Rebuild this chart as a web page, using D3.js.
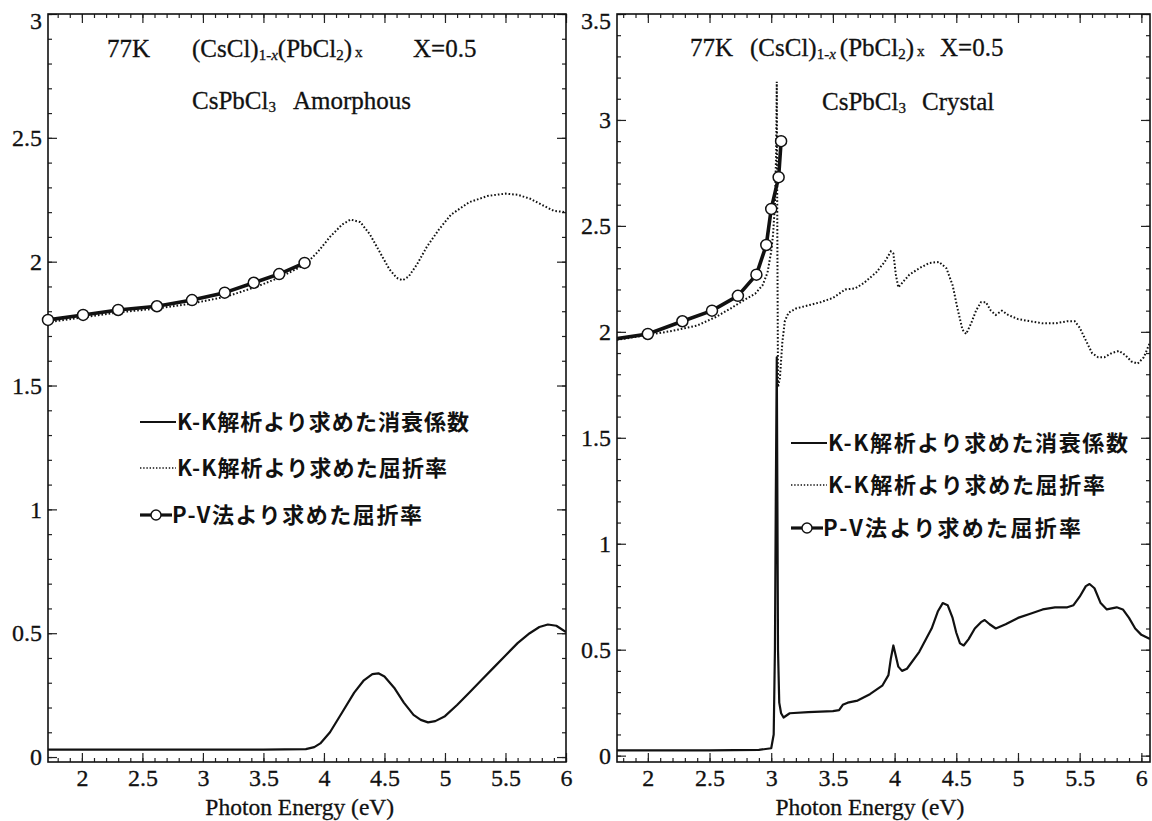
<!DOCTYPE html>
<html>
<head lang="ja">
<meta charset="UTF-8">
<script type="text/javascript" src="https://cdnjs.cloudflare.com/ajax/libs/d3/7.8.5/d3.min.js"></script>
<style>
    body { margin: 0; background: #fff; }
    .note { font-family: "Liberation Serif", "Times New Roman", serif; font-size: 25px; fill: #111; stroke: #111; stroke-width: 0.3px; }
    .sub { font-size: 15px; }
    .tk { font-family: "Liberation Serif", "Times New Roman", serif !important; font-size: 24px !important; fill: #111; stroke: #111; stroke-width: 0.3px; }
    .legend { font-family: "Noto Sans CJK JP", sans-serif; font-weight: 700; font-size: 22px; fill: #111; }
</style>
</head>
<body>
<svg id="chart" width="1152" height="821"></svg>
<script>

// ---------- data ----------
// Photon energy ticks
var xMajorTicks = [2, 2.5, 3, 3.5, 4, 4.5, 5, 5.5, 6];
var yTicksAmorph = [0, 0.5, 1, 1.5, 2, 2.5, 3];
var yTicksCrystal = [0, 0.5, 1, 1.5, 2, 2.5, 3, 3.5];

// Amorphous: extinction coefficient (K-K)
var kAmorph = [[1.72,0.03],[3.5,0.03],[3.85,0.032],[3.92,0.04],[3.97,0.055],[4.05,0.1],[4.15,0.18],[4.25,0.26],
    [4.33,0.31],[4.4,0.335],[4.45,0.338],[4.5,0.325],[4.58,0.28],[4.66,0.22],[4.74,0.17],[4.8,0.15],[4.86,0.14],
    [4.92,0.145],[5.0,0.165],[5.1,0.21],[5.2,0.26],[5.3,0.31],[5.4,0.36],[5.5,0.41],[5.6,0.46],[5.7,0.5],
    [5.78,0.525],[5.85,0.535],[5.92,0.53],[6.0,0.505]];
// Amorphous: refractive index (K-K)
var nAmorph = [[1.72,1.755],[2.0,1.775],[2.3,1.795],[2.6,1.81],[2.9,1.83],[3.2,1.86],[3.45,1.9],[3.65,1.94],
    [3.85,1.99],[3.95,2.04],[4.05,2.1],[4.15,2.15],[4.22,2.17],[4.3,2.16],[4.38,2.11],[4.46,2.04],[4.54,1.97],
    [4.6,1.935],[4.65,1.925],[4.7,1.94],[4.77,1.99],[4.85,2.06],[4.95,2.13],[5.05,2.19],[5.2,2.24],[5.35,2.265],
    [5.5,2.275],[5.6,2.27],[5.7,2.255],[5.8,2.23],[5.9,2.205],[6.0,2.2]];
// Amorphous: refractive index (P-V)
var pvAmorphE = [1.72, 2.01, 2.3, 2.62, 2.91, 3.18, 3.42, 3.63, 3.84];
var pvAmorphN = [1.765, 1.785, 1.805, 1.82, 1.845, 1.875, 1.915, 1.95, 1.995];

// Crystal: extinction coefficient (K-K)
var kCrystal = [[1.72,0.025],[2.5,0.025],[2.9,0.027],[3.0,0.035],[3.02,0.1],[3.03,0.5],[3.037,1.2],[3.045,1.88],
    [3.05,1.2],[3.055,0.5],[3.065,0.25],[3.08,0.2],[3.1,0.18],[3.15,0.2],[3.3,0.205],[3.5,0.21],[3.55,0.215],
    [3.58,0.24],[3.62,0.25],[3.7,0.26],[3.8,0.29],[3.9,0.33],[3.95,0.38],[3.97,0.46],[3.99,0.52],[4.01,0.47],
    [4.03,0.42],[4.06,0.4],[4.1,0.41],[4.2,0.49],[4.3,0.6],[4.35,0.68],[4.39,0.72],[4.43,0.71],[4.47,0.65],
    [4.5,0.58],[4.53,0.53],[4.56,0.52],[4.6,0.55],[4.65,0.6],[4.7,0.63],[4.73,0.64],[4.77,0.62],[4.82,0.6],
    [4.9,0.62],[5.0,0.65],[5.1,0.67],[5.2,0.69],[5.3,0.7],[5.4,0.7],[5.45,0.71],[5.5,0.75],[5.55,0.8],
    [5.58,0.81],[5.62,0.79],[5.67,0.72],[5.72,0.69],[5.8,0.7],[5.85,0.69],[5.9,0.65],[5.95,0.6],[6.0,0.57],[6.07,0.55]];
// Crystal: refractive index (K-K)
var nCrystal = [[1.72,1.96],[2.0,1.985],[2.2,2.005],[2.4,2.03],[2.55,2.07],[2.67,2.11],[2.78,2.15],[2.87,2.18],
    [2.93,2.22],[2.97,2.28],[3.0,2.38],[3.015,2.46],[3.03,2.6],[3.04,2.85],[3.045,3.18],[3.05,2.4],[3.055,1.74],
    [3.07,1.78],[3.09,1.95],[3.11,2.05],[3.14,2.09],[3.2,2.11],[3.3,2.125],[3.4,2.14],[3.5,2.16],[3.55,2.18],
    [3.6,2.2],[3.68,2.205],[3.75,2.23],[3.85,2.28],[3.92,2.33],[3.97,2.38],[3.99,2.37],[4.01,2.27],[4.03,2.21],
    [4.06,2.23],[4.12,2.27],[4.2,2.3],[4.28,2.325],[4.36,2.33],[4.42,2.3],[4.47,2.22],[4.51,2.11],[4.55,2.01],
    [4.58,1.99],[4.62,2.04],[4.66,2.1],[4.7,2.14],[4.74,2.14],[4.78,2.1],[4.82,2.08],[4.87,2.1],[4.92,2.08],
    [5.0,2.06],[5.1,2.05],[5.2,2.04],[5.3,2.04],[5.4,2.05],[5.46,2.05],[5.5,2.02],[5.55,1.96],[5.6,1.9],
    [5.65,1.88],[5.7,1.88],[5.76,1.9],[5.82,1.91],[5.87,1.89],[5.92,1.86],[5.97,1.85],[6.02,1.88],[6.07,1.95]];
// Crystal: refractive index (P-V); first point is where the line leaves the frame
var pvCrystalE = [1.72, 2.0, 2.28, 2.52, 2.73, 2.88, 2.96, 3.0, 3.06, 3.08];
var pvCrystalN = [1.965, 1.99, 2.05, 2.10, 2.17, 2.27, 2.41, 2.58, 2.73, 2.90];

var legendLabels = ["K-K解析より求めた消衰係数", "K-K解析より求めた屈折率", "P-V法より求めた屈折率"];

// ---------- drawing ----------
var svg = d3.select("#chart");

function minorTicks(lo, hi, step){
    var out = [];
    for (var v = Math.ceil(lo / step - 1e-9) * step; v <= hi + 1e-9; v += step) out.push(+v.toFixed(3));
    return out;
}

function drawPanel(p){
    var x = d3.scaleLinear().domain(p.xDomain).range([p.left, p.right]);
    var y = d3.scaleLinear().domain(p.yDomain).range([p.bottom, p.top]);
    var g = svg.append("g");

    var clipId = "clip" + p.id;
    svg.append("clipPath").attr("id", clipId)
        .append("rect").attr("x", p.left).attr("y", p.top)
        .attr("width", p.right - p.left).attr("height", p.bottom - p.top);

    // minor ticks on all four sides
    var xMinor = minorTicks(p.xDomain[0], p.xDomain[1], 0.1);
    var yMinor = minorTicks(Math.max(0, p.yDomain[0]), p.yDomain[1], 0.1);
    g.append("g").attr("transform", "translate(0," + p.bottom + ")")
        .call(d3.axisBottom(x).tickValues(xMinor).tickSize(-4).tickFormat(""));
    g.append("g").attr("transform", "translate(0," + p.top + ")")
        .call(d3.axisTop(x).tickValues(xMinor).tickSize(-4).tickFormat(""));
    g.append("g").attr("transform", "translate(" + p.left + ",0)")
        .call(d3.axisLeft(y).tickValues(yMinor).tickSize(-4).tickFormat(""));
    g.append("g").attr("transform", "translate(" + p.right + ",0)")
        .call(d3.axisRight(y).tickValues(yMinor).tickSize(-4).tickFormat(""));

    // major ticks + labels
    var fmt = d3.format("~g");
    var xb = g.append("g").attr("transform", "translate(0," + p.bottom + ")")
        .call(d3.axisBottom(x).tickValues(xMajorTicks).tickSize(-9).tickPadding(7).tickFormat(fmt));
    g.append("g").attr("transform", "translate(0," + p.top + ")")
        .call(d3.axisTop(x).tickValues(xMajorTicks).tickSize(-9).tickFormat(""));
    var yl = g.append("g").attr("transform", "translate(" + p.left + ",0)")
        .call(d3.axisLeft(y).tickValues(p.yTicks).tickSize(-9).tickPadding(6).tickFormat(fmt));
    g.append("g").attr("transform", "translate(" + p.right + ",0)")
        .call(d3.axisRight(y).tickValues(p.yTicks).tickSize(-9).tickFormat(""));

    g.selectAll(".domain").remove();
    g.selectAll(".tick line").attr("stroke", "#222").attr("stroke-width", 1.2);
    xb.attr("font-family", null).attr("font-size", null);
    yl.attr("font-family", null).attr("font-size", null);
    xb.selectAll("text").attr("class", "tk");
    yl.selectAll("text").attr("class", "tk");
    // top label sits just under the frame corner, as in the original
    yl.selectAll(".tick text").filter(function(d){ return d === p.yDomain[1]; }).attr("dy", "0.6em");

    // frame
    g.append("rect").attr("x", p.left).attr("y", p.top)
        .attr("width", p.right - p.left).attr("height", p.bottom - p.top)
        .attr("fill", "none").attr("stroke", "#111").attr("stroke-width", 1.6);

    // axis title
    g.append("text").attr("class", "note").attr("x", x(3.8)).attr("y", 815)
        .attr("text-anchor", "middle").style("font-size", "23.5px").text("Photon Energy (eV)");

    var line = d3.line().x(function(d){ return x(d[0]); }).y(function(d){ return y(d[1]); });
    var curves = g.append("g").attr("clip-path", "url(#" + clipId + ")");

    curves.append("path").datum(p.n).attr("d", line)
        .attr("fill", "none").attr("stroke", "#111").attr("stroke-width", 2)
        .attr("stroke-dasharray", "1.6,2");
    curves.append("path").datum(p.k).attr("d", line)
        .attr("fill", "none").attr("stroke", "#111").attr("stroke-width", 2.2)
        .attr("stroke-linejoin", "round");

    var pv = p.pvE.map(function(e, i){ return [e, p.pvN[i]]; });
    curves.append("path").datum(pv).attr("d", line)
        .attr("fill", "none").attr("stroke", "#111").attr("stroke-width", 3.6)
        .attr("stroke-linejoin", "round");
    g.selectAll(".pv" + p.id)
        .data(pv.filter(function(d){ return d[0] >= p.xDomain[0] - 0.01; }))
        .enter().append("circle")
        .attr("cx", function(d){ return x(d[0]); })
        .attr("cy", function(d){ return y(d[1]); })
        .attr("r", 5.5).attr("fill", "#fff").attr("stroke", "#111").attr("stroke-width", 1.5);

    // notes
    p.notes(g);

    // legend
    var lg = g.append("g");
    legendLabels.forEach(function(t, i){
        var ly = p.legendY[i];
        var sx = p.legendX;
        if (i === 0) {
            lg.append("line").attr("x1", sx).attr("x2", sx + 36).attr("y1", ly).attr("y2", ly)
                .attr("stroke", "#111").attr("stroke-width", 2);
        } else if (i === 1) {
            lg.append("line").attr("x1", sx).attr("x2", sx + 36).attr("y1", ly).attr("y2", ly)
                .attr("stroke", "#111").attr("stroke-width", 1.6).attr("stroke-dasharray", "1.4,1.8");
        } else {
            lg.append("line").attr("x1", sx).attr("x2", sx + 32).attr("y1", ly).attr("y2", ly)
                .attr("stroke", "#111").attr("stroke-width", 3.2);
            lg.append("circle").attr("cx", sx + 16).attr("cy", ly).attr("r", 5)
                .attr("fill", "#fff").attr("stroke", "#111").attr("stroke-width", 1.4);
        }
        var tx = sx + (i === 2 ? 32 : 37);
        lg.append("text").attr("class", "legend").attr("x", tx).attr("y", ly + 8)
            .attr("textLength", p.legendW[i]).attr("lengthAdjust", "spacing").text(t);
    });
}

function formula(g, xs, yb, gap){
    // (CsCl)1-x(PbCl2)x
    var t = g.append("text").attr("class", "note").attr("x", xs).attr("y", yb);
    t.append("tspan").text("(CsCl)");
    t.append("tspan").attr("class", "sub").attr("dy", 3).text("1-");
    t.append("tspan").attr("class", "sub").attr("font-style", "italic").text("x");
    t.append("tspan").attr("dy", -3).attr("dx", gap).text("(PbCl");
    t.append("tspan").attr("class", "sub").attr("dy", 3).text("2");
    t.append("tspan").attr("dy", -3).text(")");
    t.append("tspan").attr("class", "sub").attr("dx", 3).text("x");
}

drawPanel({
    id: "A", left: 48, right: 566, top: 14, bottom: 762,
    xDomain: [1.72, 6.0], yDomain: [-0.02, 3.0], yTicks: yTicksAmorph,
    k: kAmorph, n: nAmorph, pvE: pvAmorphE, pvN: pvAmorphN,
    legendX: 140, legendY: [422, 468, 515], legendW: [292, 270, 250],
    notes: function(g){
        g.append("text").attr("class", "note").attr("x", 107).attr("y", 57).text("77K");
        formula(g, 192, 57, 0);
        g.append("text").attr("class", "note").attr("x", 413).attr("y", 57).text("X=0.5");
        var t = g.append("text").attr("class", "note").attr("x", 192).attr("y", 109);
        t.append("tspan").text("CsPbCl");
        t.append("tspan").attr("class", "sub").attr("dy", 3).text("3");
        g.append("text").attr("class", "note").attr("x", 293).attr("y", 109).text("Amorphous");
    }
});

drawPanel({
    id: "B", left: 617, right: 1150, top: 14, bottom: 762,
    xDomain: [1.75, 6.07], yDomain: [-0.03, 3.5], yTicks: yTicksCrystal,
    k: kCrystal, n: nCrystal, pvE: pvCrystalE, pvN: pvCrystalN,
    legendX: 791, legendY: [443, 485, 528], legendW: [300, 277, 258],
    notes: function(g){
        g.append("text").attr("class", "note").attr("x", 690).attr("y", 56).text("77K");
        formula(g, 750, 56, 4);
        g.append("text").attr("class", "note").attr("x", 940).attr("y", 56).text("X=0.5");
        var t = g.append("text").attr("class", "note").attr("x", 822).attr("y", 110);
        t.append("tspan").text("CsPbCl");
        t.append("tspan").attr("class", "sub").attr("dy", 3).text("3");
        g.append("text").attr("class", "note").attr("x", 922).attr("y", 110).text("Crystal");
    }
});

</script>
</body>
</html>
